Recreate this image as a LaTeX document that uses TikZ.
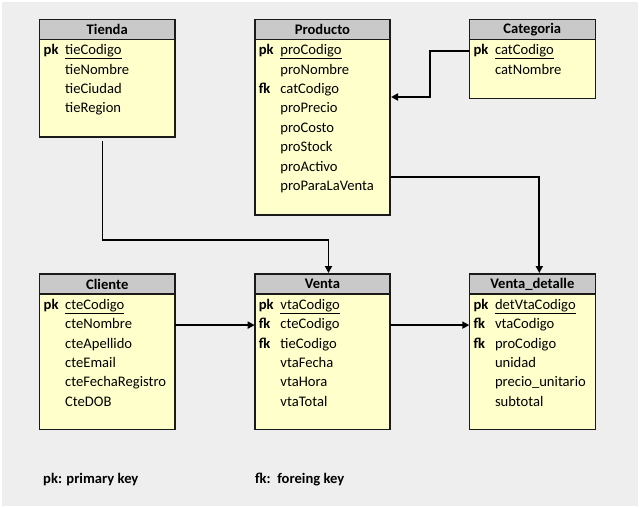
\documentclass[tikz,border=0pt]{standalone}
\usepackage{fontspec}
\setmainfont{Carlito}
\usetikzlibrary{arrows.meta}

\definecolor{canvas}{HTML}{EEEEEE}
\definecolor{headfill}{HTML}{C9C9C9}
\definecolor{bodyfill}{HTML}{FFFFCC}
\definecolor{edge}{HTML}{1A1A1A}

\newcommand\erfont{\fontsize{14.6bp}{17bp}\selectfont}

\tikzset{
  tblbody/.style={draw=edge, line width=1.6bp, fill=bodyfill, anchor=north west,
    inner sep=0pt, outer sep=0pt},
  tblhead/.style={draw=edge, line width=1.6bp, fill=headfill, anchor=north west,
    inner sep=0pt, outer sep=0pt, minimum height=20bp, font=\erfont\bfseries},
  keytext/.style={anchor=west, inner sep=0pt, font=\erfont\bfseries,
    text height=10bp, text depth=3bp},
  fieldtext/.style={anchor=west, inner sep=0pt, font=\erfont,
    text height=10bp, text depth=3bp},
  legend/.style={anchor=west, inner sep=0pt, font=\erfont\bfseries},
  rel/.style={draw=black, line width=1.8bp, -{Triangle[length=7bp,width=7bp]}}
}

% entity box: name, x, y, width, height, title
\newcommand\ertable[6]{%
  \node[tblbody, minimum width=#4, minimum height=#5] (#1) at (#2,#3) {};
  \node[tblhead, minimum width=#4] (#1-h) at (#2,#3) {#6};
}
% attribute rows: name, x, y, list of key/field
\newcommand\errows[4]{%
  \foreach \k/\f [count=\i] in {#4} {
    \node[keytext] (#1-k\i) at ({#2+4},{#3+31.7+(\i-1)*19.4}) {\k};
    \node[fieldtext] (#1-f\i) at ({#2+25.5},{#3+31.7+(\i-1)*19.4}) {\f};
  }
}

\begin{document}
\begin{tikzpicture}[x=1bp,y=-1bp]
  % canvas
  \fill[white] (0,0) rectangle (641,508);
  \fill[canvas] (1.5,2) rectangle (638,505.5);
  \useasboundingbox (0,0) rectangle (641,508);

  % entities
  \ertable{tienda}{39.5}{19.5}{135.5bp}{117.5bp}{Tienda}
  \errows{tienda}{39.5}{19.5}{pk/\underline{tieCodigo}, /tieNombre, /tieCiudad, /tieRegion}

  \ertable{producto}{254.7}{19.5}{135.5bp}{195.5bp}{Producto}
  \errows{producto}{254.7}{19.5}{pk/\underline{proCodigo}, /proNombre, fk/catCodigo,
    /proPrecio, /proCosto, /proStock, /proActivo, /proParaLaVenta}

  \ertable{categoria}{469.3}{19.5}{126bp}{79bp}{Categoria}
  \errows{categoria}{469.3}{19.5}{pk/\underline{catCodigo}, /catNombre}

  \ertable{cliente}{39.5}{274}{135.5bp}{155.5bp}{Cliente}
  \errows{cliente}{39.5}{274}{pk/\underline{cteCodigo}, /cteNombre, /cteApellido,
    /cteEmail, /cteFechaRegistro, /CteDOB}

  \ertable{venta}{254.7}{274}{135.5bp}{155.5bp}{Venta}
  \errows{venta}{254.7}{274}{pk/\underline{vtaCodigo}, fk/cteCodigo, fk/tieCodigo,
    /vtaFecha, /vtaHora, /vtaTotal}

  \ertable{detalle}{469.3}{274}{126bp}{155.5bp}{Venta\_detalle}
  \errows{detalle}{469.3}{274}{pk/\underline{detVtaCodigo}, fk/vtaCodigo, fk/proCodigo,
    /unidad, /precio\_unitario, /subtotal}

  % connector anchor points
  \coordinate (pIn)  at (391,97);
  \coordinate (pOut) at (391,177);
  \coordinate (dIn)  at (539.3,273);
  \coordinate (tOut) at (102.5,141);
  \coordinate (vIn)  at (328.5,273);

  % relationships
  \draw[rel] (categoria.west |- categoria-k1) -- ++(-39,0) |- (pIn);
  \draw[rel] (pOut) -| (dIn);
  \draw[rel] (tOut) -- ++(0,99) -| (vIn);
  \draw[rel] (cliente.east |- venta-k2) -- (venta.west |- venta-k2);
  \draw[rel] (venta.east |- detalle-k2) -- (detalle.west |- detalle-k2);

  % legend
  \node[legend] (lgpk) at (43,480) {pk: primary key};
  \node[legend] (lgfk) at (255,480) {fk:\ \ foreing key};
\end{tikzpicture}
\end{document}
